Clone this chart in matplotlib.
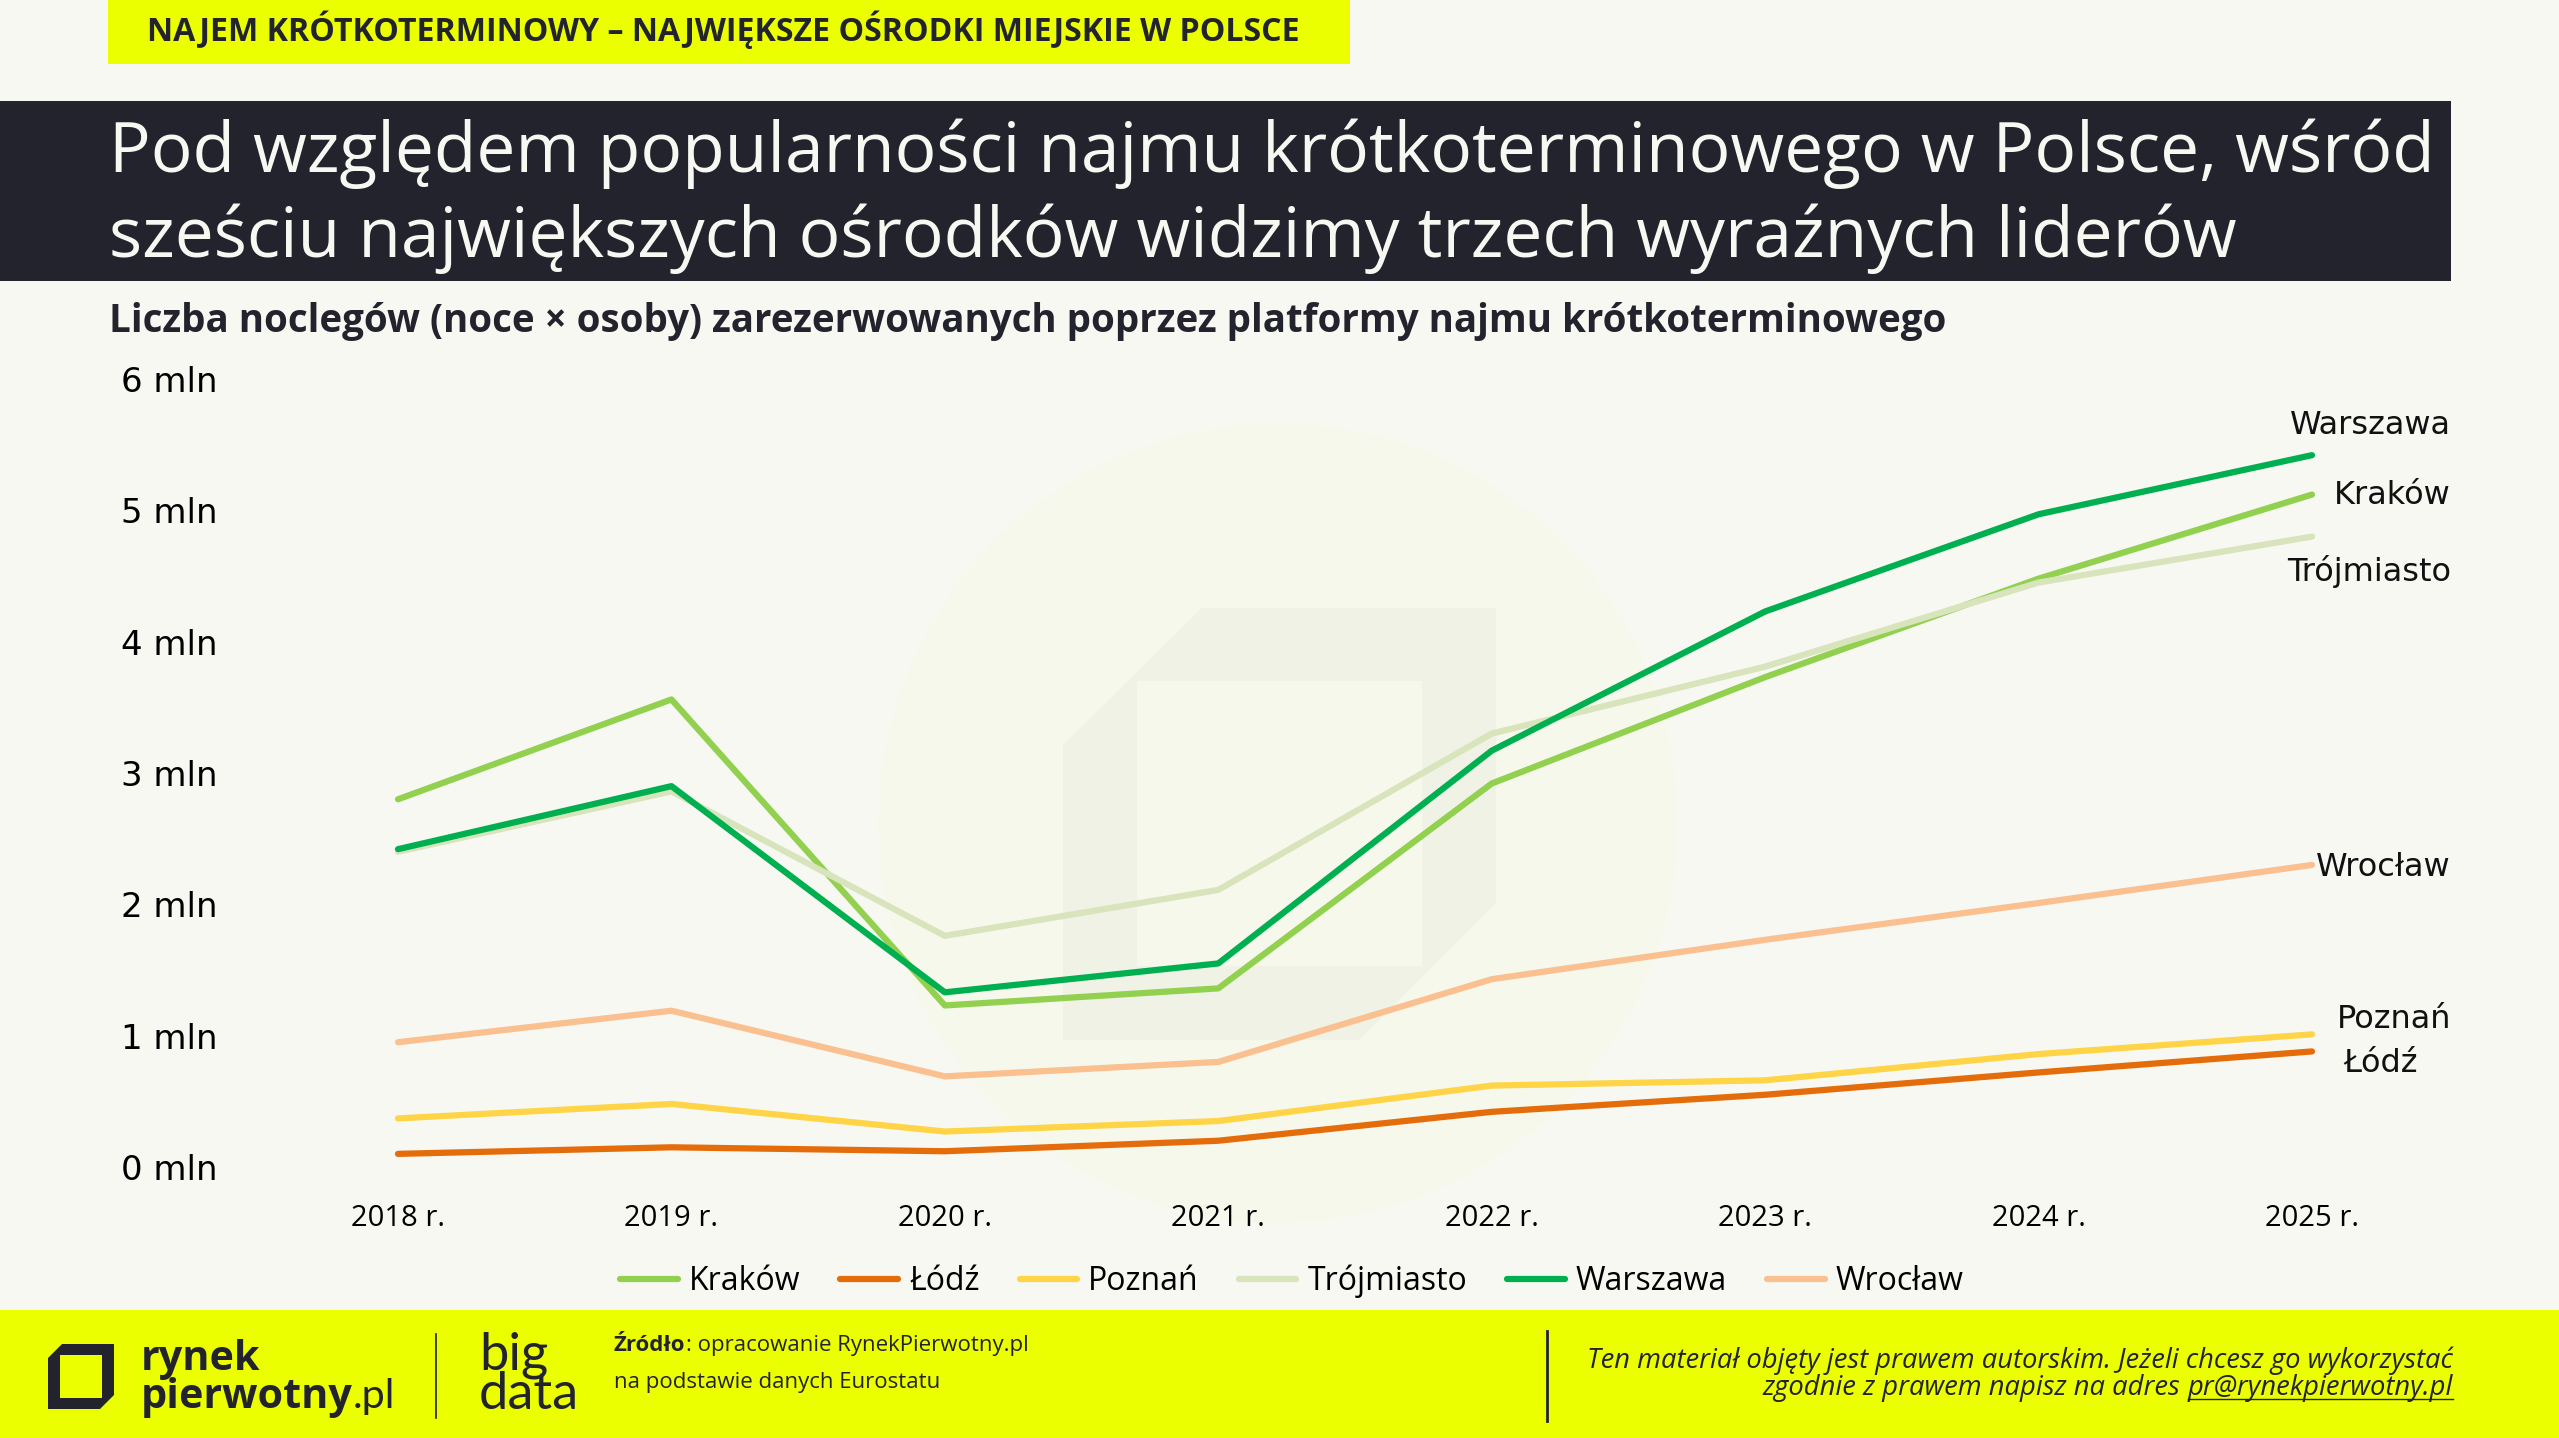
import matplotlib.pyplot as plt
from matplotlib.patches import Rectangle, Polygon, Ellipse
from matplotlib.lines import Line2D

W, H = 2559, 1438

years = ["2018 r.", "2019 r.", "2020 r.", "2021 r.", "2022 r.", "2023 r.", "2024 r.", "2025 r."]
cities = ["Kraków", "Łódź", "Poznań", "Trójmiasto", "Warszawa", "Wrocław"]
krakow = [2.80, 3.56, 1.23, 1.36, 2.92, 3.73, 4.48, 5.12]
lodz = [0.10, 0.15, 0.12, 0.20, 0.42, 0.55, 0.72, 0.88]
poznan = [0.37, 0.48, 0.27, 0.35, 0.62, 0.66, 0.86, 1.01]
trojmiasto = [2.40, 2.86, 1.76, 2.11, 3.30, 3.81, 4.45, 4.80]
warszawa = [2.42, 2.90, 1.33, 1.55, 3.17, 4.23, 4.97, 5.42]
wroclaw = [0.95, 1.19, 0.69, 0.80, 1.43, 1.73, 2.01, 2.30]
series = [krakow, lodz, poznan, trojmiasto, warszawa, wroclaw]
colors = ["#92D050", "#E46C0A", "#FFD447", "#D8E4BC", "#00B050", "#FAC090"]
y_ticks = [0, 1, 2, 3, 4, 5, 6]
y_labels = ["%d mln" % v for v in y_ticks]

BG = "#F8F8F3"
DARK = "#23232D"
LIME = "#EBFF00"
FONT = "Open Sans"


def fx(x):
    return x / W


def fy(y):
    return 1 - y / H


def rect(x0, y0, x1, y1, color, z=-5):
    fig.add_artist(Rectangle((fx(x0), fy(y1)), fx(x1 - x0), (y1 - y0) / H,
                             transform=fig.transFigure, color=color, lw=0, zorder=z))


def poly(pts, color, z=-4):
    fig.add_artist(Polygon([(fx(a), fy(b)) for a, b in pts], closed=True,
                           transform=fig.transFigure, color=color, lw=0, zorder=z))


def txt(x, y, s, **kw):
    kw.setdefault("family", FONT)
    kw.setdefault("va", "baseline")
    return fig.text(fx(x), fy(y), s, **kw)


def fit(t, width):
    w = t.get_window_extent(fig.canvas.get_renderer()).width
    t.set_fontsize(t.get_fontsize() * width / w)


def x_end(t):
    return t.get_window_extent(fig.canvas.get_renderer()).x1


fig = plt.figure(figsize=(W / 100, H / 100), dpi=100, facecolor=BG)

# watermark behind the chart
fig.add_artist(Ellipse((fx(1278), fy(823)), 800 / W, 800 / H, transform=fig.transFigure,
                       color="#F7F8EC", lw=0, zorder=-5))
poly([(1202, 608), (1496, 608), (1496, 903), (1359, 1040), (1063, 1040), (1063, 745)], "#F0F2E6")
rect(1137, 681, 1422, 966, "#F7F8EC", z=-3)

# header blocks
rect(108, 0, 1350, 64, LIME)
rect(0, 101, 2451, 281, DARK)
rect(0, 1310, W, H, LIME)

t = txt(147, 41, "NAJEM KRÓTKOTERMINOWY – NAJWIĘKSZE OŚRODKI MIEJSKIE W POLSCE",
        fontsize=21, weight="bold", color=DARK)
fit(t, 1154)
t = txt(109, 172, "Pod względem popularności najmu krótkoterminowego w Polsce, wśród",
        fontsize=46, color=BG)
fit(t, 2328)
txt(109, 257, "sześciu największych ośrodków widzimy trzech wyraźnych liderów",
    fontsize=t.get_fontsize(), color=BG)
t = txt(109, 332, "Liczba noclegów (noce × osoby) zarezerwowanych poprzez platformy najmu krótkoterminowego",
        fontsize=26, weight="bold", color=DARK)
fit(t, 1843)

# chart
ax = fig.add_axes([fx(398), fy(1167), fx(2312 - 398), (1167 - 379) / H])
ax.patch.set_alpha(0)
for name, vals, c in zip(cities, series, colors):
    ax.plot(range(len(years)), vals, color=c, lw=4.5, label=name, clip_on=False,
            solid_capstyle="round", solid_joinstyle="round")
ax.set_xlim(0, len(years) - 1)
ax.set_ylim(0, 6)
ax.set_xticks(range(len(years)), years, family=FONT, fontsize=21)
ax.set_yticks(y_ticks, y_labels, family="DejaVu Sans", fontsize=24.5)
ax.tick_params(axis="y", length=0, pad=130)
ax.tick_params(axis="x", length=0, pad=27)
for s in ax.spines.values():
    s.set_visible(False)

# end labels
end_labels = [("Warszawa", 426), ("Kraków", 496), ("Trójmiasto", 571), ("Wrocław", 867), ("Poznań", 1019)]
for name, yy in end_labels:
    fig.text(fx(2451), fy(yy), name, ha="right", va="center", family="DejaVu Sans",
             fontsize=23, color="#111111")
fig.text(fx(2343), fy(1064), "Łódź", ha="left", va="center", family="DejaVu Sans",
         fontsize=23, color="#111111")

handles, labels = ax.get_legend_handles_labels()
fig.legend(handles, labels, loc="center", bbox_to_anchor=(fx(1292), fy(1281)), ncol=6,
           frameon=False, prop={"family": FONT, "size": 23}, handlelength=1.8,
           handletextpad=0.35, columnspacing=1.25)

# footer
poly([(62, 1344), (114, 1344), (114, 1395), (100, 1409), (48, 1409), (48, 1358)], DARK)
rect(60, 1355, 102, 1398, LIME, z=-3)
t = txt(141, 1370, "rynek", fontsize=30, weight="bold", color=DARK)
t2 = txt(141, 1408, "pierwotny", fontsize=30, weight="bold", color=DARK)
fit(t2, 212)
t.set_fontsize(t2.get_fontsize())
fig.text(x_end(t2) / W, fy(1408), ".pl", family="Lato", fontsize=t2.get_fontsize(),
         color=DARK, va="baseline")
fig.add_artist(Line2D([fx(436), fx(436)], [fy(1334), fy(1418)], color=DARK, lw=1.2,
                      transform=fig.transFigure))
t = txt(479, 1409, "big\ndata", family="Lato", fontsize=30, color=DARK, linespacing=0.8)
bb = t.get_window_extent(fig.canvas.get_renderer())
t.set_fontsize(30 * 100 / bb.width)

t = txt(614, 1351, "Źródło", fontsize=16, weight="bold", color=DARK)
fig.text(x_end(t) / W, fy(1351), ": opracowanie RynekPierwotny.pl", family=FONT,
         fontsize=16, color=DARK, va="baseline")
txt(614, 1388, "na podstawie danych Eurostatu", fontsize=16, color=DARK)

fig.add_artist(Line2D([fx(1547), fx(1547)], [fy(1331), fy(1421)], color=DARK, lw=2,
                      transform=fig.transFigure))
t = txt(2453, 1368, "Ten materiał objęty jest prawem autorskim. Jeżeli chcesz go wykorzystać",
        fontsize=15, style="italic", ha="right", color=DARK)
fit(t, 866)
fs = t.get_fontsize()
mail = txt(2453, 1395, "pr@rynekpierwotny.pl", fontsize=fs, style="italic", ha="right", color=DARK)
bb = mail.get_window_extent(fig.canvas.get_renderer())
fig.text(bb.x0 / W, fy(1395), "zgodnie z prawem napisz na adres ", family=FONT, fontsize=fs,
         style="italic", ha="right", va="baseline", color=DARK)
fig.add_artist(Line2D([bb.x0 / W, bb.x1 / W], [fy(1399), fy(1399)], color=DARK, lw=1,
                      transform=fig.transFigure))

fig.savefig("out.png", dpi=100, facecolor=BG)
